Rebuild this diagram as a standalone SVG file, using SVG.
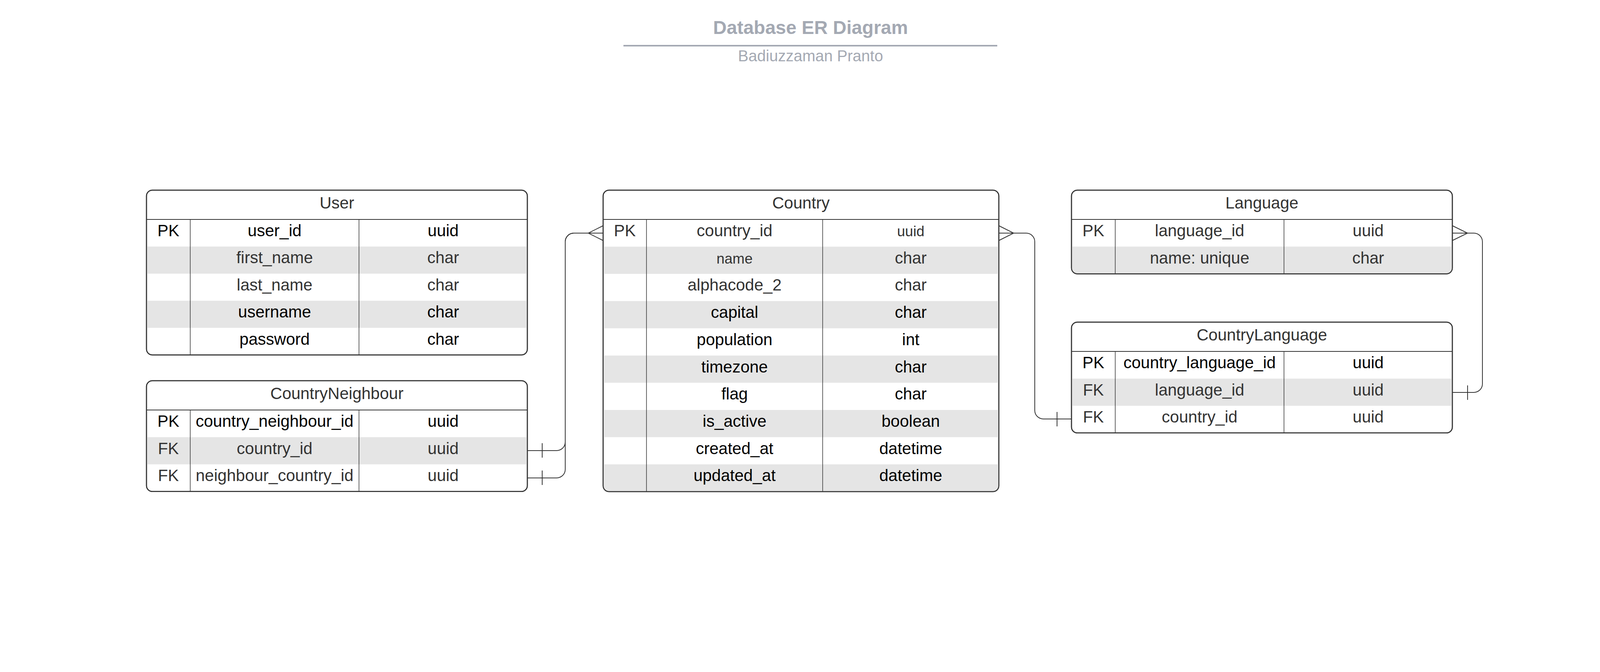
<svg xmlns="http://www.w3.org/2000/svg" width="4127" height="1721" viewBox="0 0 4127 1721">
<style>
text{font-family:"Liberation Sans",Arial,sans-serif;text-anchor:middle}
.t{font-size:42px}
.s{font-size:37px}
.k{fill:#000}
.g{fill:#333}
.box{fill:#fff;stroke:#333;stroke-width:2.5}
.frame{fill:none;stroke:#333;stroke-width:2.5}
.hl{stroke:#333;stroke-width:2}
.col{stroke:#333;stroke-width:1.5}
.band{fill:#e5e5e5}
.conn{fill:none;stroke:#333;stroke-width:2}
.title{font-size:48px;font-weight:bold;fill:#a4a9b3}
.sub{font-size:40px;fill:#a4a9b3}
</style>

<g id="title">
<text class="title" x="2075" y="87">Database ER Diagram</text>
<line x1="1596" y1="117" x2="2553" y2="117" stroke="#a4a9b3" stroke-width="4"/>
<text class="sub" x="2075" y="157">Badiuzzaman Pranto</text>
</g>

<g id="User">
<rect class="box" x="375" y="487" width="975" height="422" rx="15"/>
<rect class="band" x="376" y="631.4" width="973" height="69.4"/>
<rect class="band" x="376" y="770.2" width="973" height="69.4"/>
<line class="hl" x1="375" y1="562" x2="1350" y2="562"/>
<line class="col" x1="487" y1="562" x2="487" y2="909"/>
<line class="col" x1="919" y1="562" x2="919" y2="909"/>
<rect class="frame" x="375" y="487" width="975" height="422" rx="15"/>
<text class="t g" x="862.5" y="534">User</text>
<text class="t k" x="431" y="605">PK</text>
<text class="t k" x="703" y="605">user_id</text>
<text class="t k" x="1134.5" y="605">uuid</text>
<text class="t g" x="703" y="674.4">first_name</text>
<text class="t g" x="1134.5" y="674.4">char</text>
<text class="t g" x="703" y="743.8">last_name</text>
<text class="t g" x="1134.5" y="743.8">char</text>
<text class="t k" x="703" y="813.2">username</text>
<text class="t k" x="1134.5" y="813.2">char</text>
<text class="t k" x="703" y="882.6">password</text>
<text class="t k" x="1134.5" y="882.6">char</text>
</g>

<g id="CountryNeighbour">
<rect class="box" x="375" y="975" width="975" height="283.8" rx="15"/>
<rect class="band" x="376" y="1119.6" width="973" height="69.6"/>
<line class="hl" x1="375" y1="1050" x2="1350" y2="1050"/>
<line class="col" x1="487" y1="1050" x2="487" y2="1258.8"/>
<line class="col" x1="919" y1="1050" x2="919" y2="1258.8"/>
<rect class="frame" x="375" y="975" width="975" height="283.8" rx="15"/>
<text class="t g" x="862.5" y="1022">CountryNeighbour</text>
<text class="t k" x="431" y="1093">PK</text>
<text class="t k" x="703" y="1093">country_neighbour_id</text>
<text class="t k" x="1134.5" y="1093">uuid</text>
<text class="t g" x="431" y="1162.6">FK</text>
<text class="t g" x="703" y="1162.6">country_id</text>
<text class="t g" x="1134.5" y="1162.6">uuid</text>
<text class="t g" x="431" y="1232.2">FK</text>
<text class="t g" x="703" y="1232.2">neighbour_country_id</text>
<text class="t g" x="1134.5" y="1232.2">uuid</text>
</g>

<g id="Country">
<rect class="box" x="1544" y="487" width="1013" height="772" rx="15"/>
<rect class="band" x="1545" y="631.7" width="1011" height="69.7"/>
<rect class="band" x="1545" y="771.1" width="1011" height="69.7"/>
<rect class="band" x="1545" y="910.5" width="1011" height="69.7"/>
<rect class="band" x="1545" y="1049.9" width="1011" height="69.7"/>
<path class="band" d="M1545,1189.3 H2556 V1244 Q2556,1258 2542,1258 H1559 Q1545,1258 1545,1244 Z"/>
<line class="hl" x1="1544" y1="562" x2="2557" y2="562"/>
<line class="col" x1="1655" y1="562" x2="1655" y2="1259"/>
<line class="col" x1="2106" y1="562" x2="2106" y2="1259"/>
<rect class="frame" x="1544" y="487" width="1013" height="772" rx="15"/>
<text class="t g" x="2050.5" y="534">Country</text>
<text class="t g" x="1599.5" y="605">PK</text>
<text class="t g" x="1880.5" y="605">country_id</text>
<text class="s g" x="2331.5" y="605">uuid</text>
<text class="s g" x="1880.5" y="674.7">name</text>
<text class="t g" x="2331.5" y="674.7">char</text>
<text class="t g" x="1880.5" y="744.4">alphacode_2</text>
<text class="t g" x="2331.5" y="744.4">char</text>
<text class="t k" x="1880.5" y="814.1">capital</text>
<text class="t k" x="2331.5" y="814.1">char</text>
<text class="t k" x="1880.5" y="883.8">population</text>
<text class="t k" x="2331.5" y="883.8">int</text>
<text class="t k" x="1880.5" y="953.5">timezone</text>
<text class="t k" x="2331.5" y="953.5">char</text>
<text class="t k" x="1880.5" y="1023.2">flag</text>
<text class="t k" x="2331.5" y="1023.2">char</text>
<text class="t k" x="1880.5" y="1092.9">is_active</text>
<text class="t k" x="2331.5" y="1092.9">boolean</text>
<text class="t k" x="1880.5" y="1162.6">created_at</text>
<text class="t k" x="2331.5" y="1162.6">datetime</text>
<text class="t k" x="1880.5" y="1232.3">updated_at</text>
<text class="t k" x="2331.5" y="1232.3">datetime</text>
</g>

<g id="Language">
<rect class="box" x="2743" y="487" width="975" height="214.2" rx="15"/>
<path class="band" d="M2744,631.6 H3717 V687 Q3717,700 3704,700 H2757 Q2744,700 2744,687 Z"/>
<line class="hl" x1="2743" y1="562" x2="3718" y2="562"/>
<line class="col" x1="2855" y1="562" x2="2855" y2="701.2"/>
<line class="col" x1="3287" y1="562" x2="3287" y2="701.2"/>
<rect class="frame" x="2743" y="487" width="975" height="214.2" rx="15"/>
<text class="t g" x="3230.5" y="534">Language</text>
<text class="t g" x="2799" y="605">PK</text>
<text class="t g" x="3071" y="605">language_id</text>
<text class="t g" x="3502.5" y="605">uuid</text>
<text class="t g" x="3071" y="674.6">name: unique</text>
<text class="t g" x="3502.5" y="674.6">char</text>
</g>

<g id="CountryLanguage">
<rect class="box" x="2743" y="825" width="975" height="283.8" rx="15"/>
<rect class="band" x="2744" y="969.6" width="973" height="69.6"/>
<line class="hl" x1="2743" y1="900" x2="3718" y2="900"/>
<line class="col" x1="2855" y1="900" x2="2855" y2="1108.8"/>
<line class="col" x1="3287" y1="900" x2="3287" y2="1108.8"/>
<rect class="frame" x="2743" y="825" width="975" height="283.8" rx="15"/>
<text class="t g" x="3230.5" y="872">CountryLanguage</text>
<text class="t k" x="2799" y="943">PK</text>
<text class="t k" x="3071" y="943">country_language_id</text>
<text class="t k" x="3502.5" y="943">uuid</text>
<text class="t g" x="2799" y="1012.6">FK</text>
<text class="t g" x="3071" y="1012.6">language_id</text>
<text class="t g" x="3502.5" y="1012.6">uuid</text>
<text class="t g" x="2799" y="1082.2">FK</text>
<text class="t g" x="3071" y="1082.2">country_id</text>
<text class="t g" x="3502.5" y="1082.2">uuid</text>
</g>

<g id="connectors">
<path class="conn" d="M1350,1154 H1425 A22,22 0 0 0 1447,1132 V619 A22,22 0 0 1 1469,597 H1544"/>
<path class="conn" d="M1350,1224 H1425 A22,22 0 0 0 1447,1202 V619 A22,22 0 0 1 1469,597 H1544"/>
<path class="conn" d="M1544,578 L1506,597 L1544,616"/>
<path class="conn" d="M1388,1135 V1172 M1388,1205 V1242"/>

<path class="conn" d="M2557,597 H2627 A22,22 0 0 1 2649,619 V1051 A22,22 0 0 0 2671,1073 H2743"/>
<path class="conn" d="M2557,578 L2595,597 L2557,616"/>
<path class="conn" d="M2706,1055 V1092"/>

<path class="conn" d="M3718,597 H3773 A22,22 0 0 1 3795,619 V983 A22,22 0 0 1 3773,1005 H3718"/>
<path class="conn" d="M3718,578 L3757,597 L3718,616"/>
<path class="conn" d="M3757,987 V1024"/>
</g>
</svg>
